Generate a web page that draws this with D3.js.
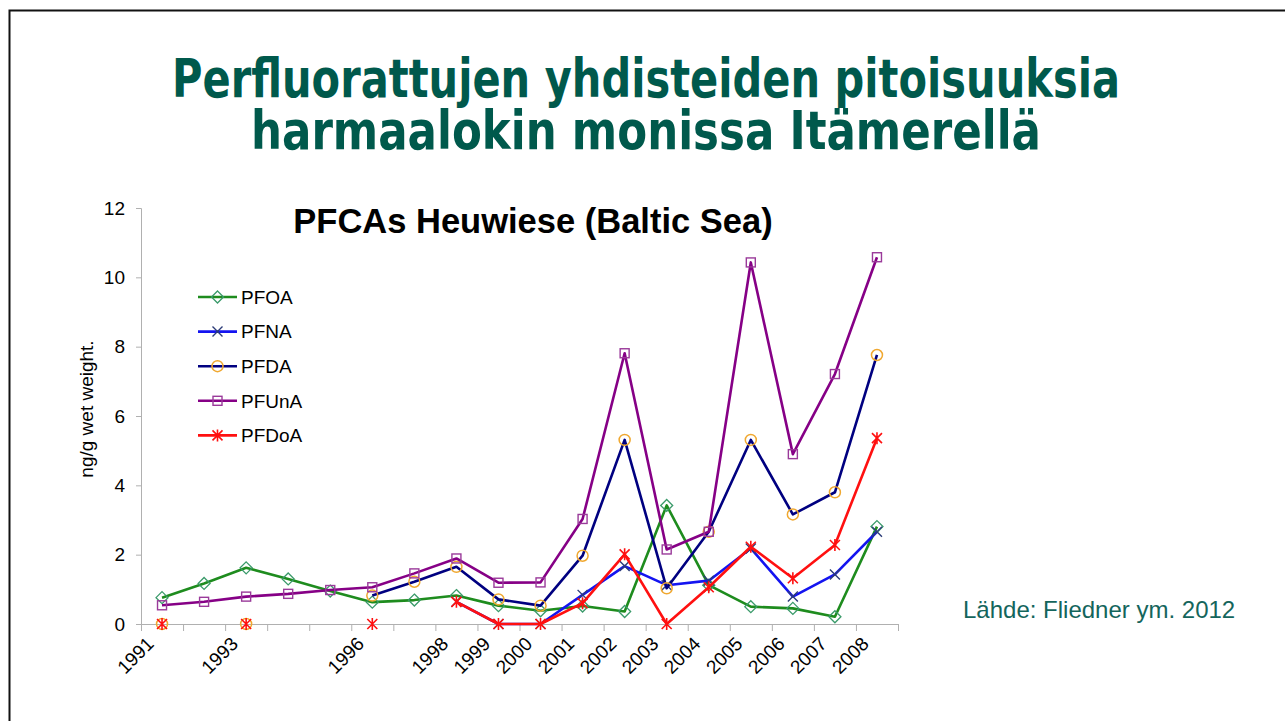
<!DOCTYPE html>
<html>
<head>
<meta charset="utf-8">
<script src="https://cdn.jsdelivr.net/npm/d3@7"></script>
<style>
  body { margin: 0; background: #fff; }
  text { font-family: Arial, "Liberation Sans", sans-serif; }
</style>
</head>
<body>
<div id="chart"></div>
<script>
// category labels (some samples have no year label)
var labels = ["1991", "", "1993", "", "", "1996", "", "1998", "1999", "2000",
              "2001", "2002", "2003", "2004", "2005", "2006", "2007", "2008"];

// ng/g wet weight, null = no value
var pfoa  = [0.76, 1.17, 1.62, 1.30, 0.95, 0.63, 0.69, 0.82, 0.53, 0.38, 0.52, 0.36, 3.42, 1.12, 0.50, 0.45, 0.21, 2.81];
var pfna  = [null, null, null, null, null, null, null, 0.64, 0, 0, 0.84, 1.67, 1.12, 1.25, 2.18, 0.79, 1.43, 2.66];
var pfda  = [0, null, 0, null, null, 0.82, 1.22, 1.65, 0.71, 0.53, 1.97, 5.31, 1.03, 2.66, 5.31, 3.16, 3.80, 7.76];
var pfuna = [0.54, 0.64, 0.79, 0.87, 0.98, 1.06, 1.46, 1.89, 1.19, 1.20, 3.03, 7.81, 2.15, 2.66, 10.43, 4.90, 7.21, 10.58];
var pfdoa = [0, null, 0, null, null, 0, null, 0.64, 0, 0, 0.60, 2.01, 0, 1.06, 2.23, 1.32, 2.28, 5.36];

var seriesNames = ["PFOA", "PFNA", "PFDA", "PFUnA", "PFDoA"];
var yTicks = [0, 2, 4, 6, 8, 10, 12];

var series = [
  {name: seriesNames[0], values: pfoa,  line: "#1e8c1e", marker: "diamond",  mcol: "#3a9a6a"},
  {name: seriesNames[1], values: pfna,  line: "#1414f0", marker: "x",        mcol: "#2c3c78"},
  {name: seriesNames[2], values: pfda,  line: "#000080", marker: "circle",   mcol: "#f0a830"},
  {name: seriesNames[3], values: pfuna, line: "#860086", marker: "square",   mcol: "#9a3a9a"},
  {name: seriesNames[4], values: pfdoa, line: "#ff1010", marker: "asterisk", mcol: "#ff1010"}
];

var W = 1285, H = 721;
var svg = d3.select("#chart").append("svg")
    .attr("width", W)
    .attr("height", H);

// slide frame
svg.append("rect")
  .attr("x", 9.5).attr("y", 10.5)
  .attr("width", 1400).attr("height", 900)
  .attr("fill", "none")
  .attr("stroke", "#111")
  .attr("stroke-width", 2);

// slide title
var titleLines = ["Perfluorattujen yhdisteiden pitoisuuksia", "harmaalokin monissa Itämerellä"];
var titleLen = [948, 790];
svg.selectAll("text.title")
  .data(titleLines)
  .enter()
  .append("text")
  .attr("class", "title")
  .attr("x", 646)
  .attr("y", function(d, i) { return 97 + i * 52; })
  .attr("text-anchor", "middle")
  .attr("textLength", function(d, i) { return titleLen[i]; })
  .attr("lengthAdjust", "spacingAndGlyphs")
  .style("font-family", "'DejaVu Sans', sans-serif")
  .style("font-weight", "bold")
  .style("font-size", "53px")
  .style("fill", "#00594c")
  .text(function(d) { return d; });

// scales
var x = d3.scaleLinear().domain([0, labels.length]).range([141, 898]);
var y = d3.scaleLinear().domain([0, 12]).range([624, 208]);

// y axis
var yAxis = svg.append("g")
  .attr("transform", "translate(141,0)")
  .call(d3.axisLeft(y).tickValues(yTicks).tickSize(5).tickPadding(11));
yAxis.select(".domain").attr("stroke", "#b0b0b0");
yAxis.selectAll(".tick line").attr("stroke", "#b0b0b0");
yAxis.selectAll(".tick text")
  .style("font-size", "19px")
  .style("font-family", "Arial, 'Liberation Sans', sans-serif")
  .attr("fill", "#000");

// x axis, ticks between categories
var xAxis = svg.append("g")
  .attr("transform", "translate(0,624)")
  .call(d3.axisBottom(x).tickValues(d3.range(labels.length + 1)).tickSize(7).tickFormat(""));
xAxis.select(".domain").attr("stroke", "#b0b0b0");
xAxis.selectAll(".tick line").attr("stroke", "#b0b0b0");

svg.selectAll("text.xlab")
  .data(labels)
  .enter()
  .append("text")
  .attr("class", "xlab")
  .attr("transform", function(d, i) { return "translate(" + (x(i + 0.5) - 7) + ",645) rotate(-45)"; })
  .attr("text-anchor", "end")
  .style("font-size", "19px")
  .text(function(d) { return d; });

// y axis title
svg.append("text")
  .attr("transform", "translate(93,409) rotate(-90)")
  .attr("text-anchor", "middle")
  .style("font-size", "19px")
  .text("ng/g wet weight.");

// chart title
svg.append("text")
  .attr("x", 533)
  .attr("y", 233)
  .attr("text-anchor", "middle")
  .style("font-size", "34.5px")
  .style("font-weight", "bold")
  .text("PFCAs Heuwiese (Baltic Sea)");

// source
svg.append("text")
  .attr("x", 963)
  .attr("y", 618)
  .style("font-size", "24px")
  .style("fill", "#14655c")
  .text("Lähde: Fliedner ym. 2012");

function drawMarker(g, type, col) {
  if (type == "diamond") {
    g.append("path").attr("d", "M0,-6L6,0L0,6L-6,0Z")
      .attr("fill", "none").attr("stroke", col).attr("stroke-width", 1.3);
  } else if (type == "x") {
    g.append("path").attr("d", "M-5,-5L5,5M-5,5L5,-5")
      .attr("stroke", col).attr("stroke-width", 1.4);
  } else if (type == "circle") {
    g.append("circle").attr("r", 5.5)
      .attr("fill", "none").attr("stroke", col).attr("stroke-width", 1.5);
  } else if (type == "square") {
    g.append("rect").attr("x", -4.5).attr("y", -4.5).attr("width", 9).attr("height", 9)
      .attr("fill", "none").attr("stroke", col).attr("stroke-width", 1.4);
  } else {
    g.append("path").attr("d", "M-5,-5L5,5M-5,5L5,-5M0,-6L0,6")
      .attr("stroke", col).attr("stroke-width", 1.6);
  }
}

var line = d3.line()
  .defined(function(d) { return d != null; })
  .x(function(d, i) { return x(i + 0.5); })
  .y(function(d) { return y(d); });

series.forEach(function(s) {
  var g = svg.append("g");
  g.append("path")
    .attr("d", line(s.values))
    .attr("fill", "none")
    .attr("stroke", s.line)
    .attr("stroke-width", 2.6)
    .attr("stroke-linejoin", "round");
  g.selectAll("g.pt")
    .data(s.values.map(function(v, i) { return {v: v, i: i}; }).filter(function(d) { return d.v != null; }))
    .enter()
    .append("g")
    .attr("transform", function(d) { return "translate(" + x(d.i + 0.5) + "," + y(d.v) + ")"; })
    .each(function() { drawMarker(d3.select(this), s.marker, s.mcol); });
});

// legend
var legend = svg.append("g");
series.forEach(function(s, i) {
  var ly = 297 + i * 34.6;
  legend.append("line")
    .attr("x1", 198).attr("x2", 237)
    .attr("y1", ly).attr("y2", ly)
    .attr("stroke", s.line).attr("stroke-width", 2.6);
  drawMarker(legend.append("g").attr("transform", "translate(217.5," + ly + ")"), s.marker, s.mcol);
  legend.append("text")
    .attr("x", 241)
    .attr("y", ly)
    .attr("dy", "0.36em")
    .style("font-size", "19px")
    .text(s.name);
});
</script>
</body>
</html>
